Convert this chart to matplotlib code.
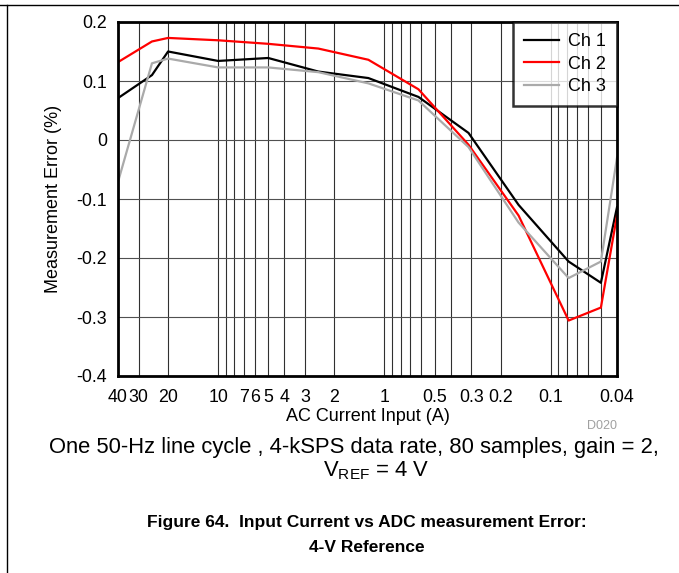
import matplotlib
matplotlib.use('Agg')
import matplotlib.pyplot as plt
from matplotlib.ticker import FixedLocator, LogLocator, NullFormatter
from matplotlib.lines import Line2D
import numpy as np

plt.rcParams['font.family'] = ['Liberation Sans', 'DejaVu Sans']

current = [40, 25, 20, 10, 5, 2.5, 1.25, 0.625, 0.3125, 0.15625, 0.078125, 0.05, 0.04]
ch1 = [0.071, 0.110, 0.150, 0.134, 0.139, 0.116, 0.105, 0.073, 0.012, -0.110, -0.206, -0.242, -0.114]
ch2 = [0.132, 0.167, 0.173, 0.169, 0.163, 0.155, 0.136, 0.086, -0.008, -0.128, -0.306, -0.284, -0.128]
ch3 = [-0.071, 0.130, 0.138, 0.123, 0.123, 0.115, 0.096, 0.067, -0.012, -0.140, -0.234, -0.206, -0.030]
tick_vals = [40, 30, 20, 10, 7, 6, 5, 4, 3, 2, 1, 0.5, 0.3, 0.2, 0.1, 0.04]
tick_text = ['40', '30', '20', '10', '7', '6', '5', '4', '3', '2', '1', '0.5', '0.3', '0.2', '0.1', '0.04']

fig = plt.figure(figsize=(6.79, 5.73), dpi=100)
ax = fig.add_axes([118 / 679, 1 - 376 / 573, 499 / 679, 354 / 573])

ax.plot(current, ch1, color='black', lw=1.6, label='Ch 1')
ax.plot(current, ch2, color='#ff0000', lw=1.6, label='Ch 2')
ax.plot(current, ch3, color='#aaaaaa', lw=1.6, label='Ch 3')

ax.set_xscale('log')
ax.set_xlim(40, 0.04)
ax.set_ylim(-0.4, 0.2)
ax.xaxis.set_major_locator(FixedLocator(tick_vals))
ax.set_xticklabels(tick_text)
ax.xaxis.set_minor_locator(LogLocator(base=10, subs=np.arange(1, 10), numticks=20))
ax.xaxis.set_minor_formatter(NullFormatter())
ax.set_yticks([0.2, 0.1, 0, -0.1, -0.2, -0.3, -0.4])
ax.set_yticklabels(['0.2', '0.1', '0', '-0.1', '-0.2', '-0.3', '-0.4'])
ax.tick_params(which='both', length=0, labelsize=12.8)
ax.tick_params(axis='x', pad=9)
ax.tick_params(axis='y', pad=8)
ax.grid(which='both', axis='x', color='#303030', lw=0.8)
ax.grid(which='major', axis='y', color='#505050', lw=0.8)
for s in ax.spines.values():
    s.set_linewidth(2)

ax.set_xlabel('AC Current Input (A)', fontsize=13, labelpad=2)
ax.set_ylabel('Measurement Error (%)', fontsize=13, labelpad=10)

leg = ax.legend(loc='upper right', fontsize=13, frameon=True, fancybox=False,
                borderaxespad=0, handlelength=1.95, handletextpad=0.5,
                labelspacing=0.3, borderpad=0.62)
leg.get_frame().set_edgecolor('black')
leg.get_frame().set_linewidth(1.8)

fig.text(617 / 679, 1 - 426 / 573, 'D020', fontsize=9, color='#a0a0a0', ha='right', va='center')
fig.text(354 / 679, 1 - 447 / 573, 'One 50-Hz line cycle , 4-kSPS data rate, 80 samples, gain = 2,',
         fontsize=15.8, ha='center', va='center')
fig.text(376 / 679, 1 - 471 / 573, r'V$_{\mathregular{REF}}$ = 4 V', fontsize=15.8, ha='center', va='center')
fig.text(367 / 679, 1 - 522 / 573, 'Figure 64.  Input Current vs ADC measurement Error:',
         fontsize=12.5, fontweight='bold', ha='center', va='center')
fig.text(367 / 679, 1 - 547 / 573, '4-V Reference', fontsize=12.5, fontweight='bold', ha='center', va='center')

fig.add_artist(Line2D([0, 1], [1 - 5 / 573, 1 - 5 / 573], color='black', lw=1))
fig.add_artist(Line2D([7 / 679, 7 / 679], [0, 1 - 5 / 573], color='black', lw=1))

fig.savefig('out.png', dpi=100)
